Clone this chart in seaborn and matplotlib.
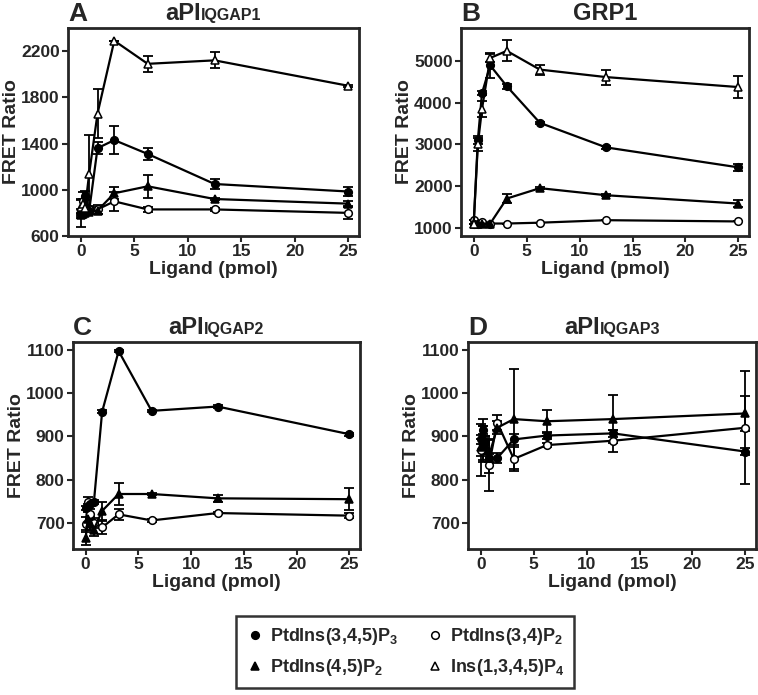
import matplotlib
matplotlib.use("Agg")
import matplotlib.pyplot as plt
import seaborn as sns
import pandas as pd
from matplotlib.lines import Line2D

# ---------------- data ----------------
x9 = [0, 0.2, 0.39, 0.78, 1.56, 3.125, 6.25, 12.5, 25]
x8 = [0, 0.39, 0.78, 1.56, 3.125, 6.25, 12.5, 25]

legend_labels = [r"PtdIns(3,4,5)P$_\mathbf{3}$", r"PtdIns(4,5)P$_\mathbf{2}$",
                 r"PtdIns(3,4)P$_\mathbf{2}$", r"Ins(1,3,4,5)P$_\mathbf{4}$"]
series_keys = ["pip3", "pi45", "pi34", "ip4"]

# Panel A  aPI-IQGAP1
a_pip3 = [800, 790, 950, 820, 1360, 1430, 1310, 1050, 985]
a_pip3_err = [30, 20, 40, 30, 50, 120, 50, 40, 40]
a_pi45 = [780, 790, 800, 810, 820, 970, 1030, 920, 880]
a_pi45_err = [20, 20, 20, 20, 30, 50, 100, 10, 20]
a_pi34 = [800, 900, 830, 830, 830, 900, 830, 830, 800]
a_pi34_err = [120, 80, 30, 30, 40, 80, 20, 10, 50]
a_ip4 = [850, 880, 840, 1140, 1660, 2290, 2090, 2120, 1900]
a_ip4_err = [60, 40, 30, 330, 210, 0, 70, 70, 10]

# Panel B  GRP1
b_pip3 = [1100, 3100, 4230, 4900, 4400, 3520, 2930, 2450]
b_pip3_err = [0, 100, 50, 300, 60, 30, 30, 80]
b_pi45 = [1100, 1080, 1100, 1100, 1700, 1950, 1780, 1580]
b_pi45_err = [0, 0, 0, 0, 100, 30, 30, 80]
b_pi34 = [1180, 1100, 1130, 1100, 1100, 1120, 1180, 1150]
b_pi34_err = [0, 0, 0, 0, 0, 0, 0, 0]
b_ip4 = [1100, 3000, 3850, 5080, 5250, 4800, 4620, 4380]
b_ip4_err = [0, 150, 200, 100, 250, 120, 180, 270]

# Panel C  aPI-IQGAP2
c_pip3 = [735, 740, 745, 748, 957, 1097, 959, 969, 905]
c_pip3_err = [5, 5, 5, 5, 3, 3, 3, 3, 3]
c_pi45 = [665, 710, 700, 685, 728, 767, 767, 757, 755]
c_pi45_err = [15, 15, 15, 15, 20, 25, 3, 8, 25]
c_pi34 = [698, 748, 720, 700, 690, 720, 706, 723, 717]
c_pi34_err = [15, 12, 12, 12, 15, 12, 3, 3, 5]

# Panel D  aPI-IQGAP3
d_pip3 = [893, 915, 885, 850, 850, 893, 902, 907, 865]
d_pip3_err = [10, 10, 12, 10, 12, 12, 8, 8, 8]
d_pi45 = [875, 890, 880, 855, 920, 940, 935, 940, 953]
d_pi45_err = [20, 50, 20, 40, 15, 115, 27, 55, 40]
d_pi34 = [868, 885, 880, 833, 932, 848, 880, 890, 920]
d_pi34_err = [60, 40, 20, 58, 17, 27, 5, 25, 130]

# ---------------- style ----------------
sns.set_style("ticks")
plt.rcParams["font.family"] = ["Liberation Sans", "DejaVu Sans"]
plt.rcParams["font.weight"] = "bold"
plt.rcParams["mathtext.fontset"] = "custom"
plt.rcParams["mathtext.rm"] = "Liberation Sans:bold"
plt.rcParams["mathtext.bf"] = "Liberation Sans:bold"

styles = {
    "pip3": dict(marker="o", mfc="black"),
    "pi45": dict(marker="^", mfc="black"),
    "pi34": dict(marker="o", mfc="white"),
    "ip4": dict(marker="^", mfc="white"),
}
MS = 5.5

W, H = 758, 695
fig = plt.figure(figsize=(W / 100, H / 100), dpi=100)


def add_ax(l, t, r, b):
    return fig.add_axes([l / W, 1 - b / H, (r - l) / W, (b - t) / H])


panels = [
    dict(box=(68, 28, 359, 236), x=x9, letter="A", title=("aPI", "IQGAP1"),
         ylim=(600, 2400), yticks=[600, 1000, 1400, 1800, 2200],
         series={"pip3": (a_pip3, a_pip3_err), "pi45": (a_pi45, a_pi45_err),
                 "pi34": (a_pi34, a_pi34_err), "ip4": (a_ip4, a_ip4_err)}),
    dict(box=(461, 28, 749, 236), x=x8, letter="B", title=("GRP1", ""),
         ylim=(800, 5800), yticks=[1000, 2000, 3000, 4000, 5000],
         series={"pip3": (b_pip3, b_pip3_err), "pi45": (b_pi45, b_pi45_err),
                 "pi34": (b_pi34, b_pi34_err), "ip4": (b_ip4, b_ip4_err)}),
    dict(box=(73, 342, 360, 549), x=x9, letter="C", title=("aPI", "IQGAP2"),
         ylim=(640, 1118), yticks=[700, 800, 900, 1000, 1100],
         series={"pip3": (c_pip3, c_pip3_err), "pi45": (c_pi45, c_pi45_err),
                 "pi34": (c_pi34, c_pi34_err)}),
    dict(box=(468, 342, 756, 549), x=x9, letter="D", title=("aPI", "IQGAP3"),
         ylim=(640, 1118), yticks=[700, 800, 900, 1000, 1100],
         series={"pip3": (d_pip3, d_pip3_err), "pi45": (d_pi45, d_pi45_err),
                 "pi34": (d_pi34, d_pi34_err)}),
]

fig.canvas.draw()
renderer = fig.canvas.get_renderer()

for p in panels:
    ax = add_ax(*p["box"])
    for key in ["pi34", "pi45", "pip3", "ip4"]:
        if key not in p["series"]:
            continue
        yv, ev = p["series"][key]
        df = pd.DataFrame({"x": p["x"], "y": yv})
        ax.errorbar(p["x"], yv, yerr=ev, fmt="none", ecolor="black",
                    elinewidth=1.3, capsize=3.5, capthick=1.3, zorder=2)
        sns.lineplot(data=df, x="x", y="y", ax=ax, color="black", lw=1.6,
                     marker=styles[key]["marker"], markersize=MS,
                     markerfacecolor=styles[key]["mfc"], markeredgecolor="black",
                     markeredgewidth=1.1, zorder=3, estimator=None, sort=False)
    ax.set_xlim(-1.2, 26)
    ax.set_ylim(*p["ylim"])
    ax.set_xticks([0, 5, 10, 15, 20, 25])
    ax.set_yticks(p["yticks"])
    ax.set_xlabel("Ligand (pmol)", fontsize=14, fontweight="bold", labelpad=1)
    ax.set_ylabel("FRET Ratio", fontsize=14, fontweight="bold", labelpad=0.5)
    ax.tick_params(direction="out", length=4, width=1.5, labelsize=12.5, pad=2)
    for lab in ax.get_xticklabels() + ax.get_yticklabels():
        lab.set_fontweight("bold")
    for s in ax.spines.values():
        s.set_linewidth(2)
        s.set_visible(True)
    l, t, r, b = p["box"]
    fig.text(l / W, 1 - (t - 14) / H, p["letter"], fontsize=19, fontweight="bold",
             ha="left", va="center")
    main, sub = p["title"]
    cx = (l + r) / 2 / W
    ty = 1 - (t - 8) / H
    t1 = fig.text(0, ty, main, fontsize=17, fontweight="bold", ha="left", va="baseline")
    t2 = fig.text(0, ty, sub, fontsize=11.5, fontweight="bold", ha="left", va="baseline")
    w1 = t1.get_window_extent(renderer).width / W
    w2 = t2.get_window_extent(renderer).width / W if sub else 0
    start = cx - (w1 + w2) / 2
    t1.set_x(start)
    t2.set_x(start + w1)

handles = [Line2D([], [], ls="none", marker=styles[k]["marker"], markersize=MS,
                  markerfacecolor=styles[k]["mfc"], markeredgecolor="black",
                  markeredgewidth=1.1) for k in series_keys]
leg = fig.legend(handles, legend_labels, ncol=2, loc="center",
                 bbox_to_anchor=(405 / W, 1 - 652 / H), frameon=True, fancybox=False,
                 edgecolor="black", prop=dict(size=13, weight="bold"),
                 handletextpad=0.3, columnspacing=1.6, handlelength=1.0,
                 borderpad=0.55, labelspacing=0.55)
leg.get_frame().set_linewidth(1.8)

fig.savefig("out.png", dpi=100)
